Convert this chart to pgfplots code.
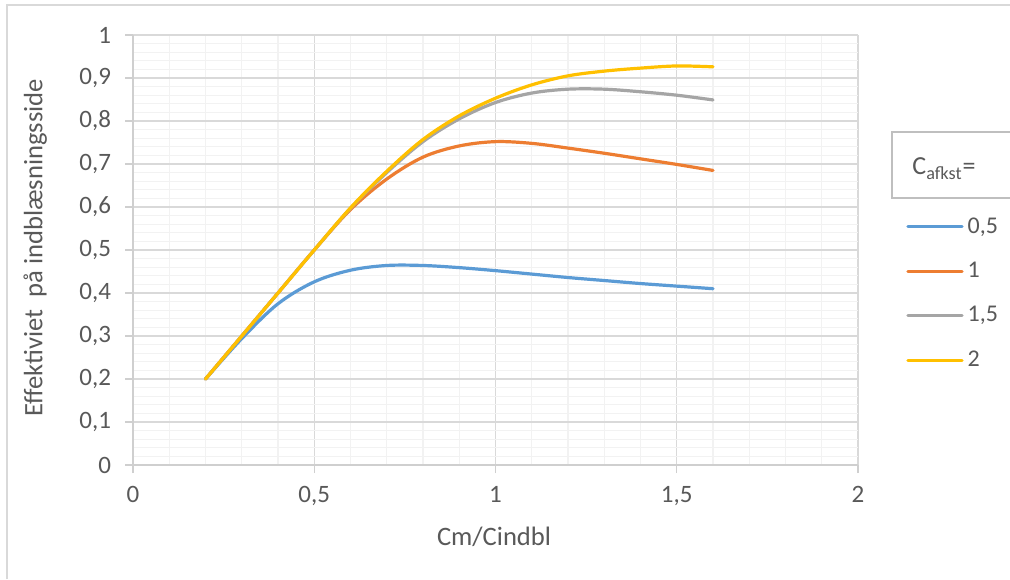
\documentclass[border=0pt]{standalone}
\usepackage{pgfplots}
\pgfplotsset{compat=1.18}
\usepackage{fontspec}
\setmainfont{Carlito}

\definecolor{txt}{HTML}{595959}
\definecolor{majgrid}{HTML}{D9D9D9}
\definecolor{mingrid}{HTML}{F2F2F2}
\definecolor{axiscol}{HTML}{CFCFCF}
\definecolor{framecol}{HTML}{D9D9D9}
\definecolor{boxcol}{HTML}{BFBFBF}
\definecolor{sblue}{HTML}{5B9BD5}
\definecolor{sorange}{HTML}{ED7D31}
\definecolor{sgray}{HTML}{A5A5A5}
\definecolor{sgold}{HTML}{FFC000}

\begin{document}
\begin{tikzpicture}[x=1pt,y=1pt]
\useasboundingbox (0,0) rectangle (505,289.5);
\fill[white] (0,0) rectangle (505,289.5);
% chart area frame
\draw[framecol, line width=0.8pt] (3.5,0) -- (3.5,287) -- (505,287);
% legend title box
\draw[boxcol, line width=0.8pt] (505,223.5) -- (446,223.5) -- (446,190.5) -- (505,190.5);
\node[anchor=base west, inner sep=0pt, text=txt, font=\fontsize{13}{15}\selectfont] at (456,202) {C\textsubscript{afkst}=};

\begin{axis}[
  at={(66.5pt,57pt)}, anchor=south west,
  scale only axis, width=362.5pt, height=215pt,
  xmin=0, xmax=2, ymin=0, ymax=1,
  xtick={0,0.5,1,1.5,2},
  ytick={0,0.1,0.2,0.3,0.4,0.5,0.6,0.7,0.8,0.9,1},
  minor x tick num=4, minor y tick num=4,
  grid=both,
  major grid style={majgrid, line width=0.6pt},
  minor grid style={mingrid, line width=0.6pt},
  axis lines*=left,
  axis line style={axiscol, line width=0.7pt, -},
  tick align=outside,
  major tick length=4pt, minor tick length=0pt,
  tick style={axiscol, line width=0.7pt},
  /pgf/number format/.cd, use comma, fixed, assume math mode=true,
  /pgfplots/.cd,
  tick label style={text=txt, font=\fontsize{12.5}{14}\selectfont},
  yticklabel style={xshift=-3.5pt},
  xticklabel style={yshift=-3pt},
  xlabel={Cm/Cindbl},
  ylabel={Effektiviet\ \ på indblæsningsside},
  every axis x label/.style={at={(axis description cs:0.498,-0.167)}, anchor=center,
    text=txt, font=\fontsize{13.3}{15}\selectfont},
  every axis y label/.style={at={(axis description cs:-0.135,0.505)}, anchor=center, rotate=90,
    text=txt, font=\fontsize{13.3}{15}\selectfont},
  legend style={at={(rel axis cs:1.0662,0.586)}, anchor=north west, draw=none, fill=none,
    font=\fontsize{12}{14}\selectfont, text=txt, inner sep=0pt, row sep=9pt},
  legend cell align=left,
  legend image code/.code={\draw[#1] (0pt,0pt) -- (27pt,0pt);},
  every axis plot/.append style={line width=1.6pt, smooth, tension=0.55, line cap=round, line join=round},
]
\addplot[sblue] coordinates {
  (0.2,0.200) (0.3,0.294) (0.4,0.375) (0.5,0.426) (0.6,0.453) (0.7,0.464)
  (0.8,0.464) (0.9,0.459) (1.0,0.452) (1.1,0.444) (1.2,0.436) (1.3,0.429)
  (1.4,0.422) (1.5,0.416) (1.6,0.410)};
\addlegendentry{0,5}
\addplot[sorange] coordinates {
  (0.2,0.200) (0.3,0.300) (0.4,0.400) (0.5,0.500) (0.6,0.594) (0.7,0.665)
  (0.8,0.716) (0.9,0.742) (1.0,0.752) (1.1,0.748) (1.2,0.737) (1.3,0.725)
  (1.4,0.712) (1.5,0.699) (1.6,0.685)};
\addlegendentry{1}
\addplot[sgray] coordinates {
  (0.2,0.200) (0.3,0.300) (0.4,0.400) (0.5,0.500) (0.6,0.597) (0.7,0.680)
  (0.8,0.752) (0.9,0.805) (1.0,0.843) (1.1,0.865) (1.2,0.874) (1.3,0.874)
  (1.4,0.868) (1.5,0.860) (1.6,0.849)};
\addlegendentry{1,5}
\addplot[sgold] coordinates {
  (0.2,0.200) (0.3,0.300) (0.4,0.400) (0.5,0.500) (0.6,0.598) (0.7,0.683)
  (0.8,0.757) (0.9,0.812) (1.0,0.853) (1.1,0.884) (1.2,0.905) (1.3,0.916)
  (1.4,0.923) (1.5,0.928) (1.6,0.926)};
\addlegendentry{2}
\end{axis}
\end{tikzpicture}
\end{document}
